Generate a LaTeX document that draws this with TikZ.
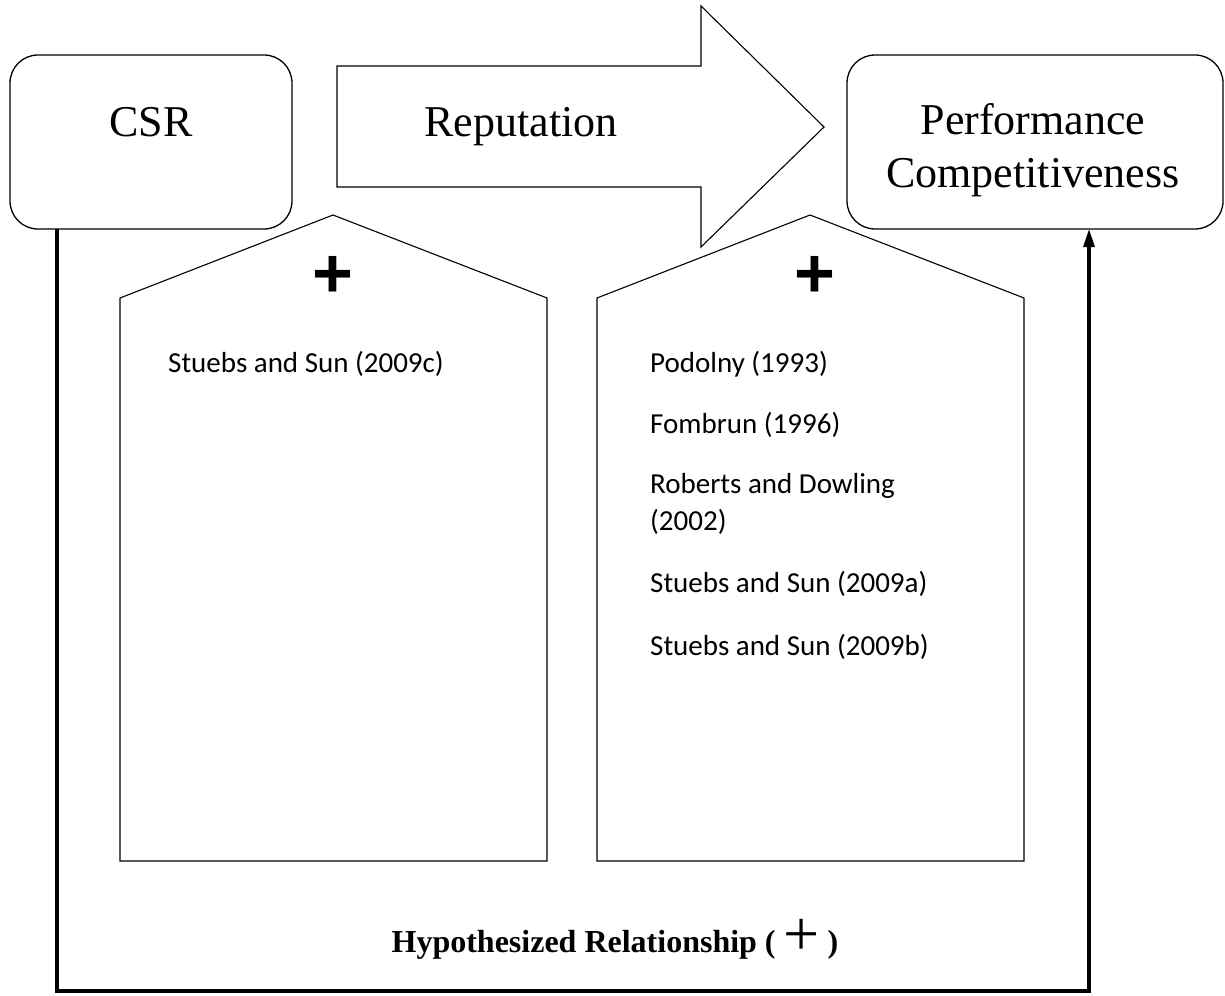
\documentclass[tikz,border=0pt]{standalone}
\usepackage{fontspec}
\setmainfont{Liberation Serif}
\newfontfamily\refsans{Carlito}
\newfontfamily\plussans{Liberation Sans}
\usetikzlibrary{arrows.meta}
\begin{document}
\begin{tikzpicture}[x=1pt,y=-1pt,
  box/.style={draw,line width=1.3pt,rounded corners=28pt},
  thinshape/.style={draw,line width=1.1pt},
  link/.style={line width=3.2pt},
  title/.style={font=\fontsize{44}{52}\selectfont,align=center,inner sep=0pt},
  reftext/.style={font=\refsans\fontsize{29}{37}\selectfont,anchor=base west,inner sep=0pt,align=left},
  bigplus/.style={font=\plussans\bfseries\fontsize{70}{70}\selectfont,inner sep=0pt}]
\useasboundingbox (0,0) rectangle (1225,995);
% boxes
\draw[box] (10,55) rectangle (292,229);
\draw[box] (847,55) rectangle (1223,229);
\coordinate (csrbot) at (57,229);
\coordinate (perfbot) at (1089,229);
% big arrow
\draw[thinshape] (337,66) -- (701,66) -- (701,6) -- (824,127) -- (701,247) -- (701,187) -- (337,187) -- cycle;
% pentagons
\draw[thinshape] (120,861) -- (120,298) -- (333,215) -- (547,298) -- (547,861) -- cycle;
\draw[thinshape] (597,861) -- (597,298) -- (810,215) -- (1024,298) -- (1024,861) -- cycle;
% titles
\node[title,anchor=base] (csr) at (151,137) {CSR};
\node[title,anchor=base] (rep) at (521,137) {Reputation};
\node[title,anchor=base] (perf) at (1033,187) {Performance\\Competitiveness};
% plus signs
\node[bigplus] (p1) at (333,277) {+};
\node[bigplus] (p2) at (815,277) {+};
% references
\node[reftext] (r0) at (168,372) {Stuebs and Sun (2009c)};
\node[reftext] (r1) at (650,372) {Podolny (1993)};
\node[reftext] (r2) at (650,433) {Fombrun (1996)};
\node[reftext] (r3) at (650,530) {Roberts and Dowling\\(2002)};
\node[reftext] (r4) at (650,592) {Stuebs and Sun (2009a)};
\node[reftext] (r5) at (650,655) {Stuebs and Sun (2009b)};
% hypothesis label
\node[anchor=base,inner sep=0pt] (hyp) at (615,952) {\fontsize{32}{32}\selectfont\bfseries Hypothesized Relationship ( \raisebox{-3pt}{\fontsize{64}{64}\selectfont\mdseries +} )};
% connector
\coordinate (bl) at (57,991);
\coordinate (br) at (1089,991);
\draw[link,-{Triangle[length=18pt,width=11pt]}] (csrbot) -- (bl) -- (br) -- (perfbot);
\end{tikzpicture}
\end{document}
